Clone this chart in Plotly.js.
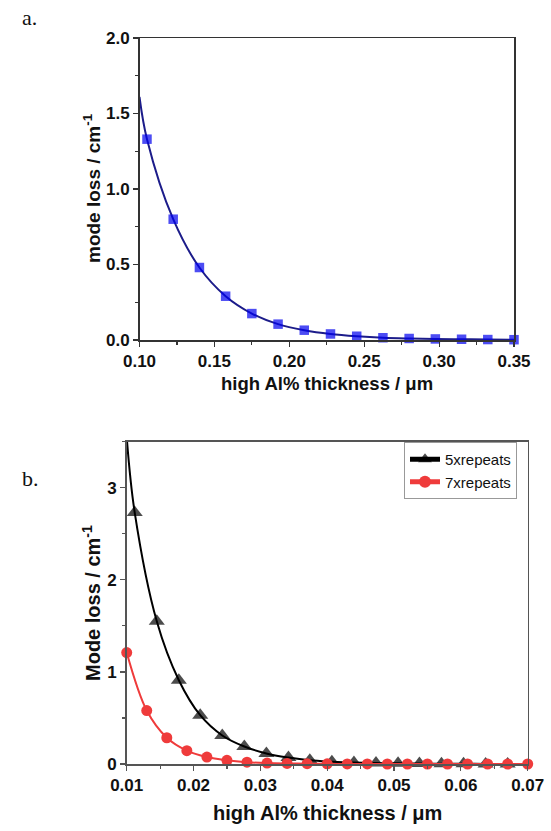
<!DOCTYPE html>
<html>
<head>
<meta charset="utf-8">
<script src="https://cdn.plot.ly/plotly-3.0.1.min.js"></script>
<style>html,body{margin:0;padding:0;background:#fff;}#chart{width:551px;height:831px;}</style>
</head>
<body>
<div id="chart"></div>
<script>
// Panel a: mode loss vs high Al% thickness (um)
const aThickness = [0.100, 0.105, 0.1225, 0.140, 0.1575, 0.175, 0.1925, 0.210, 0.2275, 0.245, 0.2625, 0.280, 0.2975, 0.315, 0.3325, 0.350];
const aModeLoss  = [1.61, 1.33, 0.80, 0.48, 0.29, 0.175, 0.105, 0.065, 0.040, 0.025, 0.015, 0.010, 0.007, 0.005, 0.003, 0.002];
const aHasMarker = [false, true, true, true, true, true, true, true, true, true, true, true, true, true, true, true];

// Panel b: mode loss vs high Al% thickness (um), two structures
const b5Thickness = [0.0100, 0.0112, 0.0145, 0.0178, 0.0210, 0.0243, 0.0276, 0.0309, 0.0342, 0.0374, 0.0407, 0.0440, 0.0473, 0.0506, 0.0538, 0.0571, 0.0604, 0.0637, 0.0670];
const b5ModeLoss  = [3.55, 2.73, 1.55, 0.91, 0.53, 0.31, 0.19, 0.115, 0.070, 0.040, 0.025, 0.015, 0.010, 0.007, 0.005, 0.003, 0.002, 0.001, 0.001];
const b5HasMarker = [false, true, true, true, true, true, true, true, true, true, true, true, true, true, true, true, true, true, true];
const b7Thickness = [0.010, 0.013, 0.016, 0.019, 0.022, 0.025, 0.028, 0.031, 0.034, 0.037, 0.040, 0.043, 0.046, 0.049, 0.052, 0.055, 0.058, 0.061, 0.064, 0.067, 0.070];
const b7ModeLoss  = [1.21, 0.58, 0.285, 0.145, 0.075, 0.040, 0.020, 0.010, 0.006, 0.004, 0.002, 0.001, 0.001, 0, 0, 0, 0, 0, 0, 0, 0];
const seriesNames = ['5xrepeats', '7xrepeats'];

const FONT = 'Liberation Sans, Arial, sans-serif';
const W = 551, H = 831;
const px = v => v / W, py = v => 1 - v / H;

const traces = [
  {
    x: aThickness, y: aModeLoss, xaxis: 'x', yaxis: 'y',
    mode: 'lines+markers', showlegend: false, cliponaxis: false,
    line: {color: '#1c1c8a', width: 2, shape: 'spline', smoothing: 1},
    marker: {symbol: 'square', color: '#0000ee', size: aHasMarker.map(m => m ? 9.5 : 0), line: {width: 0}}
  },
  {
    x: b5Thickness, y: b5ModeLoss, xaxis: 'x2', yaxis: 'y2', name: seriesNames[0],
    mode: 'lines+markers', cliponaxis: false,
    line: {color: '#000000', width: 2, shape: 'spline', smoothing: 1},
    marker: {symbol: 'triangle-up', color: '#000000', size: b5HasMarker.map(m => m ? 14 : 0), line: {width: 0}}
  },
  {
    x: b7Thickness, y: b7ModeLoss, xaxis: 'x2', yaxis: 'y2', name: seriesNames[1],
    mode: 'lines+markers', cliponaxis: false,
    line: {color: '#ef3b3b', width: 2, shape: 'spline', smoothing: 1},
    marker: {symbol: 'circle', color: '#ef3b3b', size: 11, line: {width: 0}}
  }
];

const axBase = {
  showgrid: false, zeroline: false, showline: true, linecolor: '#333', linewidth: 1.5,
  mirror: true, ticks: 'outside', ticklen: 5, tickwidth: 1.2, tickcolor: '#333',
  tickfont: {family: FONT, size: 17, color: '#111', weight: 'bold'}
};

const layout = {
  width: W, height: H, margin: {l: 0, r: 0, t: 0, b: 0},
  paper_bgcolor: '#fff', plot_bgcolor: '#fff',
  xaxis: Object.assign({}, axBase, {
    domain: [px(139.5), px(514)], anchor: 'y', range: [0.10, 0.35], dtick: 0.05, tick0: 0.10,
    tickformat: '.2f', minor: {dtick: 0.025, ticks: 'outside', ticklen: 3, tickcolor: '#333'}
  }),
  yaxis: Object.assign({}, axBase, {
    domain: [py(340), py(38)], anchor: 'x', range: [0, 2.0], dtick: 0.5, tick0: 0,
    tickformat: '.1f', minor: {dtick: 0.25, ticks: 'outside', ticklen: 3, tickcolor: '#333'}
  }),
  xaxis2: Object.assign({}, axBase, {
    domain: [px(126.7), px(527.7)], anchor: 'y2', range: [0.01, 0.07], dtick: 0.01, tick0: 0.01,
    tickformat: '.2f', linecolor: '#555', tickcolor: '#555',
    minor: {dtick: 0.005, ticks: 'outside', ticklen: 3, tickcolor: '#555'}
  }),
  yaxis2: Object.assign({}, axBase, {
    domain: [py(764), py(441.7)], anchor: 'x2', range: [0, 3.5], dtick: 1, tick0: 0,
    linecolor: '#555', tickcolor: '#555',
    minor: {dtick: 0.5, ticks: 'outside', ticklen: 3, tickcolor: '#555'}
  }),
  showlegend: true,
  legend: {
    x: px(404), y: py(442), xanchor: 'left', yanchor: 'top',
    bgcolor: '#fff', bordercolor: '#999', borderwidth: 1,
    font: {family: FONT, size: 15, color: '#111'}, tracegroupgap: 0, itemsizing: 'constant'
  },
  annotations: [
    {text: 'a.', x: px(20), y: py(18), xref: 'paper', yref: 'paper', xanchor: 'left', yanchor: 'middle',
     showarrow: false, font: {family: 'Liberation Serif, Times New Roman, serif', size: 22, color: '#111'}},
    {text: 'b.', x: px(20), y: py(478), xref: 'paper', yref: 'paper', xanchor: 'left', yanchor: 'middle',
     showarrow: false, font: {family: 'Liberation Serif, Times New Roman, serif', size: 22, color: '#111'}},
    {text: 'mode loss / cm<sup>-1</sup>', x: px(92), y: py(188), xref: 'paper', yref: 'paper',
     xanchor: 'center', yanchor: 'middle', textangle: -90, showarrow: false,
     font: {family: FONT, size: 19, color: '#111', weight: 'bold'}},
    {text: 'high Al% thickness / μm', x: px(327), y: py(383), xref: 'paper', yref: 'paper',
     xanchor: 'center', yanchor: 'middle', showarrow: false,
     font: {family: FONT, size: 18.5, color: '#111', weight: 'bold'}},
    {text: 'Mode loss / cm<sup>-1</sup>', x: px(91), y: py(603), xref: 'paper', yref: 'paper',
     xanchor: 'center', yanchor: 'middle', textangle: -90, showarrow: false,
     font: {family: FONT, size: 20, color: '#111', weight: 'bold'}},
    {text: 'high Al% thickness / μm', x: px(327), y: py(813), xref: 'paper', yref: 'paper',
     xanchor: 'center', yanchor: 'middle', showarrow: false,
     font: {family: FONT, size: 20, color: '#111', weight: 'bold'}}
  ]
};

Plotly.newPlot('chart', traces, layout, {staticPlot: true, displayModeBar: false});
</script>
</body>
</html>
